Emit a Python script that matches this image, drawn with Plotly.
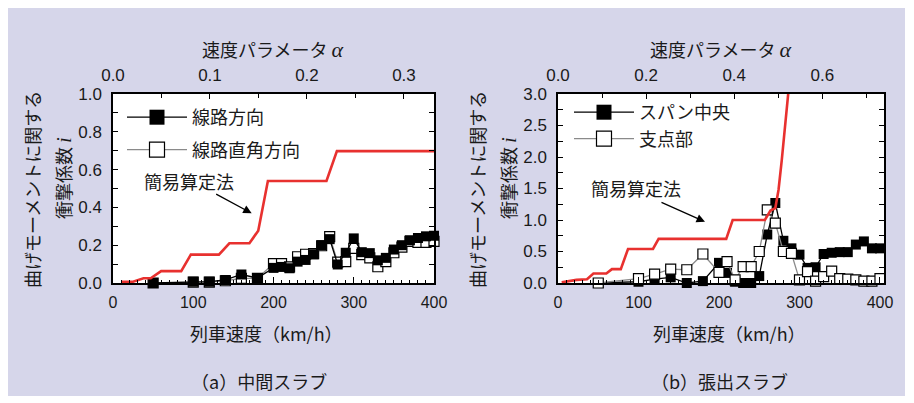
import plotly.graph_objects as go

# page has an 8px body margin: the figure is drawn at (8, 8) in the window
OFF = 8
W, H = 906, 395

# ---------------- data: (a) 中間スラブ ----------------
speed_a = [50, 100, 120, 140, 160, 180, 200, 210, 220, 230, 240, 250, 260, 270,
           280, 290, 300, 310, 320, 330, 340, 350, 360, 370, 380, 390, 400]
track_dir = [0.0, 0.007, 0.007, 0.016, 0.045, 0.026, 0.08, 0.085, 0.078, 0.113, 0.122,
             0.152, 0.2, 0.232, 0.098, 0.16, 0.236, 0.163, 0.158, 0.12, 0.133, 0.177,
             0.2, 0.226, 0.238, 0.247, 0.25]
track_perp = [0.0, 0.005, 0.005, 0.012, 0.025, 0.025, 0.103, 0.103, 0.085, 0.139, 0.152,
              0.155, 0.197, 0.245, 0.11, 0.113, 0.183, 0.15, 0.133, 0.086, 0.113, 0.16,
              0.19, 0.22, 0.215, 0.215, 0.22]
simple_a_speed = [10, 25, 38, 47, 60, 85, 97, 132, 145, 170, 181, 193, 266, 279, 400]
simple_a = [0.007, 0.007, 0.025, 0.025, 0.063, 0.063, 0.15, 0.15, 0.21, 0.21, 0.277,
            0.54, 0.54, 0.698, 0.698]

# ---------------- data: (b) 張出スラブ ----------------
speed_b = [50, 100, 120, 140, 160, 180, 200, 210, 220, 230, 240, 250, 260, 270,
           280, 290, 300, 310, 320, 330, 340, 350, 360, 370, 380, 390, 400]
span_center = [0.0, 0.02, 0.06, 0.09, 0.0, 0.03, 0.32, 0.16, 0.02, 0.0, 0.0, 0.11, 0.77,
               1.27, 0.67, 0.55, 0.45, 0.24, 0.25, 0.46, 0.48, 0.49, 0.49, 0.61, 0.66,
               0.55, 0.55]
support = [0.0, 0.07, 0.14, 0.22, 0.21, 0.46, 0.17, 0.34, 0.05, 0.26, 0.26, 0.5, 1.16,
           0.95, 0.5, 0.47, 0.05, 0.18, 0.03, 0.1, 0.19, 0.07, 0.06, 0.05, 0.03, 0.03, 0.07]
simple_b_speed = [4.6, 23, 36, 44, 60, 67, 78, 87, 118, 125, 209, 217, 257, 264, 270,
                  274, 278, 282, 286, 289]
simple_b = [0.01, 0.05, 0.06, 0.15, 0.15, 0.22, 0.22, 0.54, 0.54, 0.70, 0.70, 1.0, 1.0,
            1.15, 1.19, 1.48, 1.95, 2.5, 3.0, 3.4]

# axis ticks / ranges
speed_ticks = [0, 100, 200, 300, 400]
alpha_ticks_a = [0.0, 0.1, 0.2, 0.3]
alpha_ticks_b = [0.0, 0.2, 0.4, 0.6]
i_ticks_a = [0.0, 0.2, 0.4, 0.6, 0.8, 1.0]
i_ticks_b = [0.0, 0.5, 1.0, 1.5, 2.0, 2.5, 3.0]

names_a = ["線路方向", "線路直角方向"]
names_b = ["スパン中央", "支点部"]
simple_name = "簡易算定法"
ytitle1 = "曲げモーメントに関する"
ytitle2 = ("衝撃係数 <span style=\"font-family:Liberation Serif;font-size:21px\">"
           "<i>i</i></span>")
toptitle = ("速度パラメータ <span style=\"font-family:Liberation Serif;font-size:22px\">"
            "<i>α</i></span>")
bottitle = "列車速度（km/h）"
captions = ["（a）中間スラブ", "（b）張出スラブ"]

LAV = "#d6d6ea"
RED = "#e8312f"
JP = "Noto Sans CJK JP"
TXT = "#1a1a1a"

def px_x(p):
    return (p - OFF) / W

def px_y(p):
    return 1 - (p - OFF) / H

dom_a = [px_x(113), px_x(434)]
dom_b = [px_x(558), px_x(884)]
dom_y = [px_y(283), px_y(94)]

fig = go.Figure()

MS = 10
# ---- (a)
fig.add_trace(go.Scatter(x=speed_a, y=track_perp, mode="lines+markers", showlegend=False,
                         line=dict(color="#8a8a8a", width=1.3),
                         marker=dict(symbol="square", size=MS, color="white",
                                     line=dict(color="black", width=1.2)),
                         cliponaxis=False, xaxis="x", yaxis="y"))
fig.add_trace(go.Scatter(x=speed_a, y=track_dir, mode="lines+markers", showlegend=False,
                         line=dict(color="black", width=1.3),
                         marker=dict(symbol="square", size=MS, color="black"),
                         cliponaxis=False, xaxis="x", yaxis="y"))
fig.add_trace(go.Scatter(x=simple_a_speed, y=simple_a, mode="lines", showlegend=False,
                         line=dict(color=RED, width=2.6), xaxis="x", yaxis="y"))
# legend entries (a)
fig.add_trace(go.Scatter(x=[None], y=[None], mode="lines+markers", name=names_a[0],
                         legend="legend", legendgroup="a1",
                         line=dict(color="black", width=1.3),
                         marker=dict(symbol="square", size=15, color="black"),
                         xaxis="x", yaxis="y"))
fig.add_trace(go.Scatter(x=[None], y=[None], mode="lines+markers", name=names_a[1],
                         legend="legend", legendgroup="a2",
                         line=dict(color="#8a8a8a", width=1.3),
                         marker=dict(symbol="square", size=15, color="white",
                                     line=dict(color="black", width=1.2)),
                         xaxis="x", yaxis="y"))

# ---- (b)
fig.add_trace(go.Scatter(x=speed_b, y=span_center, mode="lines+markers", showlegend=False,
                         line=dict(color="black", width=1.3),
                         marker=dict(symbol="square", size=MS, color="black"),
                         cliponaxis=False, xaxis="x2", yaxis="y2"))
fig.add_trace(go.Scatter(x=speed_b, y=support, mode="lines+markers", showlegend=False,
                         line=dict(color="#8a8a8a", width=1.3),
                         marker=dict(symbol="square", size=MS, color="white",
                                     line=dict(color="black", width=1.2)),
                         cliponaxis=False, xaxis="x2", yaxis="y2"))
fig.add_trace(go.Scatter(x=simple_b_speed, y=simple_b, mode="lines", showlegend=False,
                         line=dict(color=RED, width=2.6), xaxis="x2", yaxis="y2"))
fig.add_trace(go.Scatter(x=[None], y=[None], mode="lines+markers", name=names_b[0],
                         legend="legend2", legendgroup="b1",
                         line=dict(color="black", width=1.3),
                         marker=dict(symbol="square", size=15, color="black"),
                         xaxis="x2", yaxis="y2"))
fig.add_trace(go.Scatter(x=[None], y=[None], mode="lines+markers", name=names_b[1],
                         legend="legend2", legendgroup="b2",
                         line=dict(color="#8a8a8a", width=1.3),
                         marker=dict(symbol="square", size=15, color="white",
                                     line=dict(color="black", width=1.2)),
                         xaxis="x2", yaxis="y2"))
# top alpha axes (empty traces so the axes exist)
fig.add_trace(go.Scatter(x=[], y=[], showlegend=False, xaxis="x3", yaxis="y"))
fig.add_trace(go.Scatter(x=[], y=[], showlegend=False, xaxis="x4", yaxis="y2"))

num_font = dict(family="Liberation Sans, Arial", size=17, color=TXT)
narrow_font = dict(family="Liberation Sans Narrow, Liberation Sans", size=16, color=TXT)

def bottom_axis(domain, rng, anchor):
    return dict(domain=domain, range=rng, anchor=anchor, tickmode="array",
                tickvals=speed_ticks, ticks="inside", ticklen=6, tickwidth=1,
                tickcolor="black", showline=True, linecolor="black", linewidth=1.5,
                mirror=False, showgrid=False, zeroline=False, tickfont=narrow_font,
                ticklabelstandoff=4, automargin=False,
                minor=dict(tickmode="linear", tick0=0, dtick=10, ticks="inside",
                           ticklen=3, tickcolor="black", tickwidth=1, showgrid=False))

def top_axis(over, rng, tv, anchor):
    return dict(overlaying=over, side="top", anchor=anchor, range=rng, tickmode="array",
                tickvals=tv, ticktext=[f"{v:.1f}" for v in tv], ticks="inside",
                ticklen=5, tickwidth=1, tickcolor="black", showline=True,
                linecolor="black", linewidth=1.5, showgrid=False, zeroline=False,
                tickfont=num_font, ticklabelstandoff=4, automargin=False,
                minor=dict(tickmode="linear", tick0=0, dtick=tv[1] / 2, ticks="inside",
                           ticklen=4, tickcolor="black", tickwidth=1, showgrid=False))

def y_axis(rng, tv, anchor):
    return dict(domain=dom_y, range=rng, anchor=anchor, tickmode="array", tickvals=tv,
                ticktext=[f"{v:.1f}" for v in tv], ticks="inside", ticklen=5,
                tickwidth=1, tickcolor="black", showline=True, linecolor="black",
                linewidth=1.5, mirror="ticks", showgrid=False, zeroline=False,
                tickfont=num_font, ticklabelstandoff=6, automargin=False,
                minor=dict(tickmode="linear", tick0=0, dtick=tv[1] / 2, ticks="inside",
                           ticklen=5, tickcolor="black", tickwidth=1, showgrid=False))

fig.update_layout(
    width=W, height=H, autosize=False,
    margin=dict(l=0, r=0, t=0, b=0, pad=0, autoexpand=False),
    paper_bgcolor=LAV, plot_bgcolor="white",
    xaxis=bottom_axis(dom_a, [0, 400], "y"),
    xaxis2=bottom_axis(dom_b, [0, 405], "y2"),
    xaxis3=top_axis("x", [0, 0.331], alpha_ticks_a, "y"),
    xaxis4=top_axis("x2", [0, 0.740], alpha_ticks_b, "y2"),
    yaxis=y_axis([0, 1.0], i_ticks_a, "x"),
    yaxis2=y_axis([0, 3.0], i_ticks_b, "x2"),
    legend=dict(x=px_x(122), y=px_y(99), xanchor="left", yanchor="top",
                bgcolor="rgba(0,0,0,0)", font=dict(family=JP, size=18, color=TXT),
                itemwidth=60, tracegroupgap=6, traceorder="grouped"),
    legend2=dict(x=px_x(569), y=px_y(94), xanchor="left", yanchor="top",
                 bgcolor="rgba(0,0,0,0)", font=dict(family=JP, size=18, color=TXT),
                 itemwidth=60, tracegroupgap=0, traceorder="grouped"),
)

# white strip on the right / bottom edge (the body margin gives the left / top one)
for x0, x1, y0, y1 in [(px_x(905), 1, 0, 1), (0, 1, 0, px_y(396))]:
    fig.add_shape(type="rect", xref="paper", yref="paper", x0=x0, x1=x1, y0=y0, y1=y1,
                  fillcolor="white", line=dict(width=0), layer="below")

ann = []
def txt(x, y, s, size=18, angle=0):
    ann.append(dict(x=px_x(x), y=px_y(y), xref="paper", yref="paper", text=s,
                    showarrow=False, textangle=angle, xanchor="center", yanchor="middle",
                    font=dict(family=JP, size=size, color=TXT)))

for off in (0, 445):
    txt(32 + off, 190, ytitle1, angle=-90)
    txt(63 + off, 178, ytitle2, angle=-90)
txt(273, 49, toptitle)
txt(721, 49, toptitle)
txt(266, 333, bottitle)
txt(729, 333, bottitle)
txt(259, 381, captions[0])
txt(719, 381, captions[1])

# 簡易算定法 labels and arrows
ann.append(dict(x=94.7, y=0.54, xref="x", yref="y", text=simple_name, showarrow=False,
                font=dict(family=JP, size=18, color=TXT)))
ann.append(dict(x=172.8, y=0.369, xref="x", yref="y", text="", showarrow=True,
                ax=-37, ay=-20, arrowhead=2, arrowsize=1.3, arrowwidth=1.3,
                arrowcolor="black"))
ann.append(dict(x=96.9, y=1.51, xref="x2", yref="y2", text=simple_name, showarrow=False,
                font=dict(family=JP, size=18, color=TXT)))
ann.append(dict(x=182.6, y=0.973, xref="x2", yref="y2", text="", showarrow=True,
                ax=-45, ay=-20, arrowhead=2, arrowsize=1.3, arrowwidth=1.3,
                arrowcolor="black"))
fig.update_layout(annotations=ann)

fig.write_html("out.html")
